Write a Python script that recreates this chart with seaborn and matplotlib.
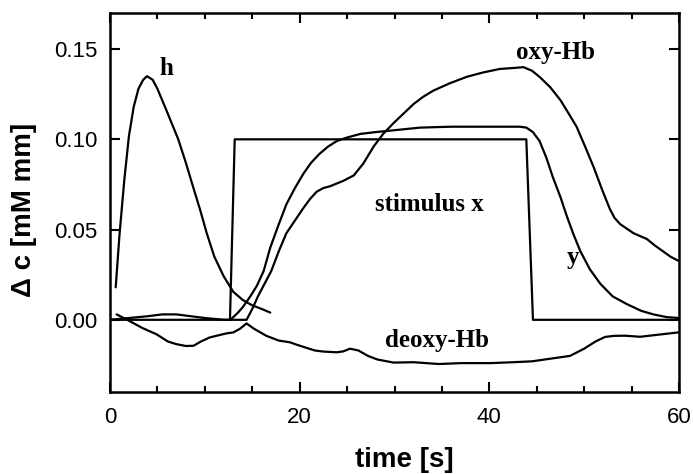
import numpy as np
import pandas as pd
import matplotlib
matplotlib.use("Agg")
import matplotlib.pyplot as plt
from matplotlib.ticker import MultipleLocator, FormatStrFormatter
import seaborn as sns

# ---- data ----
h_t = [0.6, 1.0, 1.5, 2.0, 2.5, 3.0, 3.5, 3.9, 4.5, 5.0, 5.8, 6.5, 7.2, 8.0,
       8.8, 9.5, 10.2, 11.0, 12.0, 13.0, 14.0, 15.0, 16.0, 16.9]
h_v = [0.018, 0.047, 0.077, 0.102, 0.118, 0.128, 0.133, 0.135, 0.133, 0.128,
       0.118, 0.109, 0.100, 0.087, 0.073, 0.061, 0.048, 0.035, 0.024, 0.0155,
       0.011, 0.008, 0.006, 0.004]

stim_t = [0.0, 12.65, 13.15, 43.9, 44.6, 60.0]
stim_v = [0.0, 0.0, 0.100, 0.100, 0.0, 0.0]

y_t = [12.7, 13.5, 14.0, 14.8, 15.5, 16.2, 16.9, 17.8, 18.6, 19.5, 20.4, 21.2,
       22.1, 23.0, 23.9, 25.0, 26.4, 28.0, 29.9, 32.7, 36.0, 40.0, 43.2, 43.9,
       44.6, 45.3, 46.0, 46.7, 47.5, 48.2, 48.9, 49.6, 50.6, 51.7, 53.0, 54.5,
       56.0, 57.3, 58.7, 60.0]
y_v = [0.0, 0.004, 0.007, 0.013, 0.019, 0.027, 0.040, 0.053, 0.064, 0.073,
       0.081, 0.087, 0.092, 0.096, 0.099, 0.101, 0.103, 0.104, 0.105, 0.1065,
       0.107, 0.107, 0.107, 0.1065, 0.104, 0.099, 0.090, 0.079, 0.068, 0.057,
       0.047, 0.038, 0.028, 0.020, 0.013, 0.0087, 0.005, 0.003, 0.0015, 0.001]

oxy_t = [0.0, 2.0, 4.0, 5.5, 7.0, 8.5, 10.0, 12.0, 13.5, 14.4, 15.0, 15.6,
         16.3, 17.0, 17.8, 18.6, 19.5, 20.4, 21.1, 21.8, 22.5, 23.2, 24.6,
         25.7, 26.7, 27.8, 28.8, 29.9, 30.6, 31.3, 32.0, 33.0, 34.1, 35.8,
         37.6, 39.3, 41.1, 42.5, 43.6, 44.5, 45.3, 46.4, 47.5, 48.4, 49.2,
         50.1, 51.0, 51.9, 52.7, 53.2, 53.8, 55.2, 56.6, 57.5, 58.3, 59.1,
         59.9]
oxy_v = [0.0, 0.001, 0.002, 0.003, 0.003, 0.002, 0.001, 0.0, 0.0, 0.0,
         0.006, 0.013, 0.020, 0.027, 0.038, 0.048, 0.055, 0.062, 0.067,
         0.071, 0.073, 0.074, 0.077, 0.080, 0.0865, 0.096, 0.103, 0.109,
         0.1125, 0.116, 0.1195, 0.1235, 0.127, 0.131, 0.1346, 0.137, 0.139,
         0.1395, 0.140, 0.138, 0.1346, 0.129, 0.1217, 0.114, 0.107, 0.096,
         0.0846, 0.072, 0.0615, 0.0565, 0.053, 0.048, 0.0448, 0.041, 0.038,
         0.035, 0.0328]

deoxy_t = [0.7, 2.0, 3.4, 4.9, 6.1, 7.0, 8.0, 8.8, 9.6, 10.5, 11.5, 12.3, 13.0,
           13.7, 14.4, 15.2, 16.5, 17.8, 19.0, 19.8, 20.7, 21.6, 22.5, 23.9,
           24.6, 25.3, 26.2, 27.2, 28.2, 29.9, 32.0, 34.7, 37.0, 40.1, 42.5,
           44.5, 46.5, 48.5, 50.0, 51.2, 52.2, 53.1, 54.3, 55.9, 57.4, 59.9]
deoxy_v = [0.003, -0.0005, -0.0045, -0.008, -0.012, -0.0135, -0.0145, -0.0144,
           -0.012, -0.0098, -0.0085, -0.0075, -0.007, -0.005, -0.002, -0.005,
           -0.0089, -0.0115, -0.0125, -0.014, -0.0155, -0.017, -0.0176,
           -0.018, -0.0175, -0.016, -0.017, -0.020, -0.022, -0.0237, -0.0235,
           -0.0245, -0.024, -0.024, -0.0235, -0.023, -0.0215, -0.020, -0.016,
           -0.012, -0.0095, -0.0089, -0.0088, -0.0094, -0.0085, -0.007]

labels = ["h", "oxy-Hb", "stimulus x", "y", "deoxy-Hb"]
label_t = [5.9, 47.0, 33.7, 48.8, 34.5]
label_v = [0.139, 0.148, 0.064, 0.0344, -0.0117]

# ---- figure ----
sns.set_style("ticks")
plt.rcParams["font.family"] = ["Liberation Sans", "DejaVu Sans"]
plt.rcParams["text.color"] = "black"
plt.rcParams["axes.labelcolor"] = "black"

fig = plt.figure(figsize=(6.93, 4.74), dpi=100)
ax = fig.add_axes([110 / 693, 1 - 392 / 474, 569 / 693, 379 / 474])

series = [(h_t, h_v), (stim_t, stim_v), (y_t, y_v), (oxy_t, oxy_v), (deoxy_t, deoxy_v)]
for t, v in series:
    df = pd.DataFrame({"t": t, "v": v})
    sns.lineplot(data=df, x="t", y="v", ax=ax, color="black", linewidth=1.6,
                 estimator=None, sort=False)

for s, t, v in zip(labels, label_t, label_v):
    ax.text(t, v, s, ha="center", va="center", fontsize=18, fontweight="bold",
            color="black", family=["Liberation Serif", "DejaVu Serif"])

ax.set_xlim(0, 60)
ax.set_ylim(-0.04, 0.17)
ax.xaxis.set_major_locator(MultipleLocator(20))
ax.xaxis.set_minor_locator(MultipleLocator(5))
ax.yaxis.set_major_locator(MultipleLocator(0.05))
ax.yaxis.set_major_formatter(FormatStrFormatter("%.2f"))

ax.tick_params(axis="both", which="both", direction="in", top=True, right=True,
               colors="black", width=1.5)
ax.tick_params(axis="both", which="major", length=7, labelsize=16)
ax.tick_params(axis="both", which="minor", length=4)
ax.tick_params(axis="x", which="major", pad=11)
ax.tick_params(axis="y", which="major", pad=9)
ax.tick_params(axis="y", which="minor", left=False, right=False)

for sp in ax.spines.values():
    sp.set_linewidth(1.8)
    sp.set_color("black")

ax.set_xlabel("time [s]", fontsize=20, fontweight="bold", color="black")
ax.set_ylabel("Δ c [mM mm]", fontsize=20, fontweight="bold", color="black")
ax.xaxis.set_label_coords(0.518, -0.145)
ax.yaxis.set_label_coords(-0.128, 0.48)

fig.savefig("out.png", dpi=100)
